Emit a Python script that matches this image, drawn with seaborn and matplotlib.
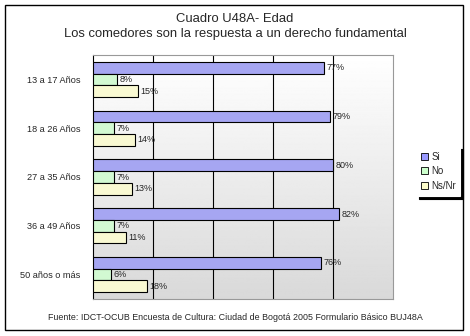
import numpy as np
import pandas as pd
import matplotlib
matplotlib.use("Agg")
import matplotlib.pyplot as plt
import seaborn as sns
from matplotlib.patches import Rectangle

categories = ["13 a 17 Años", "18 a 26 Años", "27 a 35 Años", "36 a 49 Años", "50 años o más"]
si = [77, 79, 80, 82, 76]
no = [8, 7, 7, 7, 6]
nsnr = [15, 14, 13, 11, 18]
series_names = ["Si", "No", "Ns/Nr"]
colors = ["#9999FF", "#CCFFCC", "#FFFFCC"]

df = pd.DataFrame({
    "Edad": categories * 3,
    "Respuesta": [series_names[0]] * 5 + [series_names[1]] * 5 + [series_names[2]] * 5,
    "Valor": si + no + nsnr,
})

sns.set_style("white")
plt.rcParams["font.family"] = ["Liberation Sans", "DejaVu Sans"]

fig = plt.figure(figsize=(4.7, 3.36), dpi=100)
ax = fig.add_axes([93 / 470, 1 - 299 / 336, 300 / 470, 244 / 336])

# gradient background
grad = np.linspace(1.0, 0.85, 256).reshape(-1, 1)
ax.imshow(grad, extent=[0, 1, 0, 1], transform=ax.transAxes, cmap="gray",
          vmin=0, vmax=1, aspect="auto", zorder=0)

sns.barplot(data=df, y="Edad", x="Valor", hue="Respuesta", orient="h",
            palette=colors, width=0.72, edgecolor="black", linewidth=0.8,
            ax=ax, zorder=3, legend=False)

for c in ax.containers:
    ax.bar_label(c, labels=[f"{int(v)}%" for v in c.datavalues], padding=2,
                 fontsize=6.5, zorder=4)

ax.set_xlim(0, 100)
ax.set_ylim(4.5, -0.5)
ax.set_xticks([20, 40, 60, 80])
ax.set_xticklabels([])
ax.tick_params(axis="x", length=0)
ax.grid(axis="x", color="black", linewidth=0.8, zorder=1)
ax.set_axisbelow(True)
ax.set_xlabel("")
ax.set_ylabel("")
ax.tick_params(axis="y", which="major", length=0, labelsize=6.6, pad=9)
ax.set_yticks(np.arange(-0.5, 5, 1), minor=True)
ax.tick_params(axis="y", which="minor", length=4, width=0.8, color="black", direction="out")
for s in ["top", "right", "bottom"]:
    ax.spines[s].set_color("#999999")
    ax.spines[s].set_linewidth(0.8)
ax.spines["left"].set_color("black")
ax.spines["left"].set_linewidth(0.8)

# legend
handles = [Rectangle((0, 0), 1, 1, facecolor=c, edgecolor="black", linewidth=0.6) for c in colors]
leg = fig.legend(handles, series_names, loc="lower left",
                 bbox_to_anchor=(416 / 470, 1 - 196 / 336, 44 / 470, 44 / 336),
                 mode="expand", fontsize=7, frameon=True, fancybox=False,
                 handlelength=0.7, handleheight=0.7, handletextpad=0.3,
                 labelspacing=0.45, borderpad=0.55, borderaxespad=0,
                 shadow={"color": "black", "alpha": 1})
leg.get_frame().set_edgecolor("white")
leg.get_frame().set_linewidth(0.8)

# outer border
fig.patches.append(Rectangle((5 / 470, 1 - 330 / 336), 458 / 470, 325 / 336,
                             transform=fig.transFigure, fill=False,
                             edgecolor="black", linewidth=1))

fig.text(0.5, 1 - 19 / 336, "Cuadro U48A- Edad", ha="center", va="center", fontsize=9.4)
fig.text(0.5, 1 - 34 / 336, "Los comedores son la respuesta a un derecho fundamental",
         ha="center", va="center", fontsize=9.4)
fig.text(0.5, 1 - 317 / 336,
         "Fuente: IDCT-OCUB Encuesta de Cultura: Ciudad de Bogotá 2005 Formulario Básico BUJ48A",
         ha="center", va="center", fontsize=6.4)

fig.savefig("out.png", dpi=100)
